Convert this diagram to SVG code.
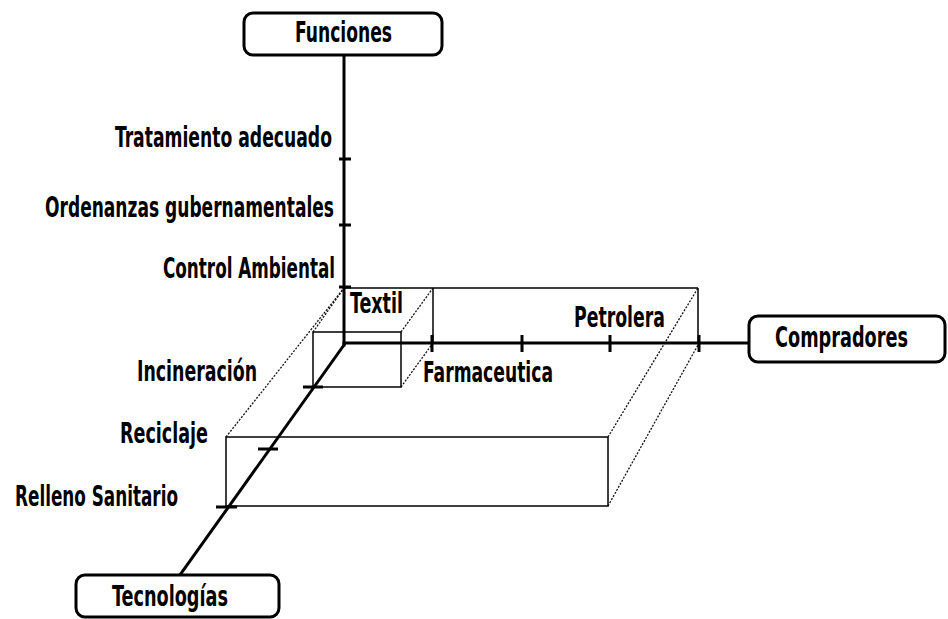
<svg xmlns="http://www.w3.org/2000/svg" width="948" height="619" viewBox="0 0 948 619">
  <style>
    .lbl { font-family: "Liberation Sans Narrow", "DejaVu Sans Condensed", "Liberation Sans", sans-serif; font-weight: bold; font-size: 28px; fill: #000; }
    .box { fill: #fff; stroke: #000; stroke-width: 3; }
    .axis { stroke: #000; stroke-width: 3; fill: none; stroke-linecap: square; }
    .tick { stroke: #000; stroke-width: 3; fill: none; }
    .edge { stroke: #000; stroke-width: 1.5; fill: none; }
    .hid { stroke: #111; stroke-width: 1.3; fill: none; stroke-dasharray: 2 1.5; }
  </style>
  <rect width="948" height="619" fill="#fff"/>

  <!-- prism edges, axes and ticks -->
  <g id="connectors">
    <!-- large prism -->
    <line class="edge" x1="344" y1="288" x2="698" y2="288"/>
    <line class="edge" x1="698" y1="288" x2="698" y2="343"/>
    <rect class="edge" x="226" y="437" width="382" height="69"/>
    <line class="hid" x1="226" y1="437" x2="344" y2="288"/>
    <line class="hid" x1="608" y1="437" x2="698" y2="288"/>
    <line class="hid" x1="608" y1="506" x2="698" y2="345"/>
    <!-- small prism -->
    <line class="edge" x1="433" y1="288" x2="433" y2="343"/>
    <rect class="edge" x="313" y="332" width="88" height="55"/>
    <line class="hid" x1="313" y1="332" x2="344" y2="288"/>
    <line class="hid" x1="401" y1="332" x2="433" y2="288"/>
    <line class="hid" x1="401" y1="387" x2="433" y2="343"/>

    <!-- axes -->
    <line class="axis" x1="344" y1="55" x2="344" y2="345"/>
    <line class="axis" x1="344" y1="343" x2="748" y2="343"/>
    <line class="axis" x1="344" y1="345" x2="180" y2="575"/>

    <!-- ticks -->
    <line class="tick" x1="339" y1="159" x2="351" y2="159"/>
    <line class="tick" x1="339" y1="225" x2="351" y2="225"/>
    <line class="tick" x1="339" y1="287" x2="351" y2="287"/>
    <line class="tick" x1="432" y1="335" x2="432" y2="352"/>
    <line class="tick" x1="522" y1="335" x2="522" y2="352"/>
    <line class="tick" x1="610" y1="335" x2="610" y2="352"/>
    <line class="tick" x1="699" y1="335" x2="699" y2="352"/>
    <line class="tick" x1="303" y1="387" x2="323" y2="387"/>
    <line class="tick" x1="258" y1="449" x2="278" y2="449"/>
    <line class="tick" x1="216" y1="507" x2="237" y2="507"/>
  </g>

  <g id="funciones">
    <rect class="box" x="244" y="13" width="198" height="42" rx="9"/>
    <text class="lbl" x="295" y="42" textLength="97" lengthAdjust="spacingAndGlyphs">Funciones</text>
  </g>
  <g id="compradores">
    <rect class="box" x="749" y="316" width="196" height="46" rx="9"/>
    <text class="lbl" x="775" y="347" textLength="133" lengthAdjust="spacingAndGlyphs">Compradores</text>
  </g>
  <g id="tecnologias">
    <rect class="box" x="76" y="575" width="203" height="42" rx="9"/>
    <text class="lbl" x="112" y="606" textLength="116" lengthAdjust="spacingAndGlyphs">Tecnologías</text>
  </g>

  <g id="labels-funciones">
    <text class="lbl" x="115" y="147" textLength="217" lengthAdjust="spacingAndGlyphs">Tratamiento adecuado</text>
    <text class="lbl" x="45" y="217" textLength="289" lengthAdjust="spacingAndGlyphs">Ordenanzas gubernamentales</text>
    <text class="lbl" x="163" y="278" textLength="172" lengthAdjust="spacingAndGlyphs">Control Ambiental</text>
  </g>
  <g id="labels-compradores">
    <text class="lbl" x="350" y="313" textLength="53" lengthAdjust="spacingAndGlyphs">Textil</text>
    <text class="lbl" x="423" y="382" textLength="130" lengthAdjust="spacingAndGlyphs">Farmaceutica</text>
    <text class="lbl" x="574" y="327" textLength="91" lengthAdjust="spacingAndGlyphs">Petrolera</text>
  </g>
  <g id="labels-tecnologias">
    <text class="lbl" x="137" y="381" textLength="120" lengthAdjust="spacingAndGlyphs">Incineración</text>
    <text class="lbl" x="120" y="443" textLength="88" lengthAdjust="spacingAndGlyphs">Reciclaje</text>
    <text class="lbl" x="15" y="506" textLength="163" lengthAdjust="spacingAndGlyphs">Relleno Sanitario</text>
  </g>
</svg>
